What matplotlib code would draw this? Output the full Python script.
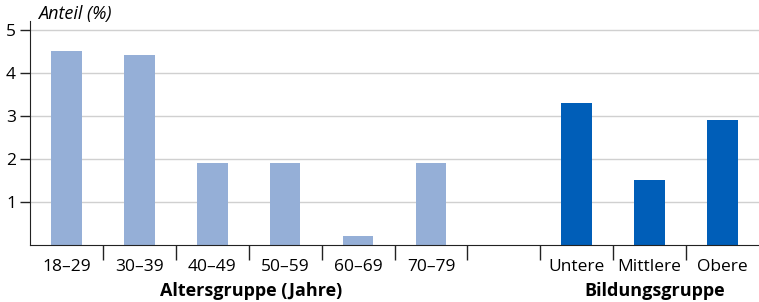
import numpy as np
import matplotlib.pyplot as plt

plt.rcParams['font.family'] = ['Open Sans', 'DejaVu Sans']

labels = ["18–29", "30–39", "40–49", "50–59", "60–69", "70–79", "", "Untere", "Mittlere", "Obere"]
werte = [4.5, 4.4, 1.9, 1.9, 0.2, 1.9, 0.0, 3.3, 1.5, 2.9]
gruppe = ["alter"] * 6 + ["leer"] + ["bildung"] * 3
farben = {"alter": "#95afd7", "leer": "none", "bildung": "#005eb8"}

fig = plt.figure(figsize=(7.59, 3.02), dpi=100)
ax = fig.add_axes([30 / 759, 1 - 245 / 302, 1 - 30 / 759, (245 - 21) / 302])

x = np.arange(len(werte))
for xi, w, g in zip(x, werte, gruppe):
    if g != "leer":
        ax.bar(xi, w, width=0.42, color=farben[g], zorder=2)

ax.set_xlim(-0.5, len(werte) - 0.5)
ax.set_ylim(0, 5.2)

ax.set_yticks([1, 2, 3, 4, 5])
ax.yaxis.grid(True, color="#d0d0d0", linewidth=1, zorder=0)
ax.tick_params(axis="y", length=7, width=1, labelsize=12.5, pad=3, color="#222222")

ax.set_xticks(x)
ax.set_xticklabels(labels, fontsize=12.5)
ax.set_xticks(np.arange(0.5, len(werte) - 0.5, 1), minor=True)
ax.tick_params(axis="x", which="major", length=0, pad=10)
ax.tick_params(axis="x", which="minor", length=11, width=1, color="#222222")

for side in ["top", "right"]:
    ax.spines[side].set_visible(False)
ax.spines["left"].set_color("#222222")
ax.spines["bottom"].set_color("#222222")

fig.text(38 / 759, 1 - 14 / 302, "Anteil (%)", fontsize=13, style="italic", va="center", ha="left")
fig.text(251 / 759, 1 - 291 / 302, "Altersgruppe (Jahre)", fontsize=13, fontweight="bold", ha="center", va="center")
fig.text(655 / 759, 1 - 291 / 302, "Bildungsgruppe", fontsize=13, fontweight="bold", ha="center", va="center")

fig.savefig("out.png", dpi=100)
